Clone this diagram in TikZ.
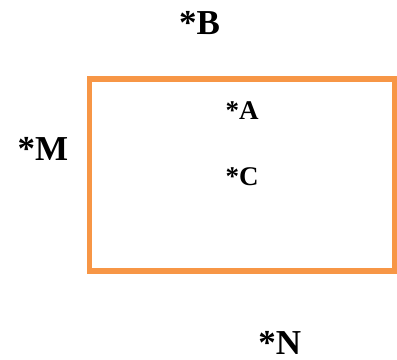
\documentclass[tikz,border=0pt]{standalone}
\usepackage{fontspec}
\setmainfont{Liberation Serif}
\definecolor{boxorange}{HTML}{F79646}
\begin{document}
\begin{tikzpicture}[x=1bp,y=-1bp,
  bigl/.style={font=\fontsize{35bp}{40bp}\selectfont\bfseries, anchor=base, inner sep=0pt},
  smalll/.style={font=\fontsize{27bp}{32bp}\selectfont\bfseries, anchor=base, inner sep=0pt},
  frame/.style={draw=boxorange, line width=5.5bp}]
\useasboundingbox (0,0) rectangle (397,360);
\draw[frame] (89.7,78.8) rectangle (394.5,271.2);
\node[bigl] (B) at (199.5,34) {*B};
\node[bigl] (M) at (42.8,160.7) {*M};
\node[smalll] (A) at (242,119) {*A};
\node[smalll] (C) at (242,185) {*C};
\node[bigl] (N) at (279.7,354) {*N};
\end{tikzpicture}
\end{document}
